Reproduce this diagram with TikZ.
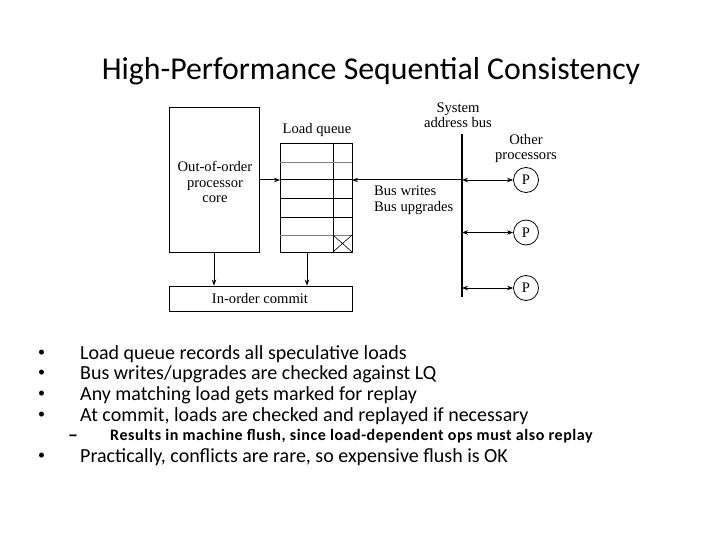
\documentclass[tikz,border=0pt]{standalone}
\usepackage{fontspec}
\setmainfont{Carlito}
\newfontfamily\figfont{Liberation Serif}
\newfontfamily\subfont[LetterSpace=3.5]{Carlito Bold}
\usetikzlibrary{arrows.meta}
\begin{document}
\begin{tikzpicture}[x=1pt,y=-1pt,
  figtext/.style={font=\figfont\fontsize{14.6}{15.5}\selectfont, inner sep=0pt, align=center},
  boxline/.style={draw=black, line width=0.8pt},
  arr/.style={-{Stealth[length=6pt,width=4.5pt]}, line width=1pt},
  biarr/.style={{Stealth[length=6pt,width=4.5pt]}-{Stealth[length=6pt,width=4.5pt]}, line width=0.8pt},
  itemtext/.style={font=\fontsize{20}{22}\selectfont, anchor=base west, inner sep=0pt},
  bulletmark/.style={font=\fontsize{14}{16}\selectfont, anchor=base west, inner sep=0pt},
  subtext/.style={font=\subfont\fontsize{16}{18}\selectfont, anchor=base west, inner sep=0pt},
  proc/.style={circle, draw, line width=0.8pt, minimum size=25pt, inner sep=0pt, font=\figfont\fontsize{14.6}{15.5}\selectfont}]
\useasboundingbox (0,0) rectangle (720,540);
\fill[white] (0,0) rectangle (720,540);
% title
\node[font=\fontsize{31.8}{34}\selectfont, inner sep=0pt] (title) at (371,71) {High-Performance Sequential Consistency};
% core
\node[boxline, minimum width=90pt, minimum height=145pt, inner sep=0pt] (core) at (214,179.5) {};
\node[figtext] (coretxt) at (215,182) {Out-of-order\\processor\\core};
% load queue
\node[boxline, minimum width=72pt, minimum height=109pt, inner sep=0pt] (lq) at (316,197.5) {};
\node[figtext] (lqlabel) at (317,130) {Load queue};
\coordinate (lqA) at (333,143);
\coordinate (lqB) at (333,252);
\draw[line width=0.8pt] (lqA) -- (lqB);
\foreach \yy/\cc in {162/gray,198/black,217/black,235/gray}
  \draw[\cc, line width=0.6pt] (280,\yy) -- (352,\yy);
\draw[line width=1pt] (280,180) -- (352,180);
\draw[line width=0.6pt] (333,235) -- (352,252) (333,252) -- (352,235);
% commit
\node[boxline, minimum width=183pt, minimum height=25pt, inner sep=0pt] (commit) at (260.5,298.5) {};
\node[figtext] (committxt) at (260,299) {In-order commit};
% arrows to commit
\draw[arr] (core.south) -- (core.south |- commit.north);
\coordinate (lqdown) at (307,252);
\draw[arr] (lqdown) -- (lqdown |- commit.north);
% core to lq
\coordinate (coreR) at (259,180);
\coordinate (lqL) at (280,180);
\draw[arr] (coreR) -- (lqL);
% bus
\coordinate (busT) at (462,134);
\coordinate (busB) at (462,297);
\draw[line width=1.8pt] (busT) -- (busB);
\node[figtext] (buslabel) at (458,115) {System\\address bus};
\coordinate (bus1) at (462,180);
\coordinate (lqR) at (352,180);
\draw[arr] (bus1) -- (lqR);
\node[figtext, align=left, anchor=west] (bwlabel) at (374,200) {Bus writes\\Bus upgrades};
% processors
\node[figtext] (otherlabel) at (526,148.5) {Other\\processors};
\node[proc] (p1) at (526,180) {P};
\node[proc] (p2) at (526,232.5) {P};
\node[proc] (p3) at (526,288) {P};
\coordinate (b1) at (462,180);
\coordinate (b2) at (462,232.5);
\coordinate (b3) at (462,288);
\draw[biarr] (b1) -- (p1.west);
\draw[biarr] (b2) -- (p2.west);
\draw[biarr] (b3) -- (p3.west);
% bullets
\foreach \yy/\tt in {359/Load queue records all speculative loads,
                     379/Bus writes\slash upgrades are checked against LQ,
                     400/Any matching load gets marked for replay,
                     421/{At commit, loads are checked and replayed if necessary},
                     462/{Practically, conflicts are rare, so expensive flush is OK}}{
  \node[bulletmark] at (38,\yy-3) {\textbullet};
  \node[itemtext] at (80,\yy) {\tt};
}
\node[subtext, font=\subfont\fontsize{20}{22}\selectfont] (dash) at (68,441) {–};
\node[subtext] (sub) at (110,440) {Results in machine flush, since load-dependent ops must also replay};
\end{tikzpicture}
\end{document}
